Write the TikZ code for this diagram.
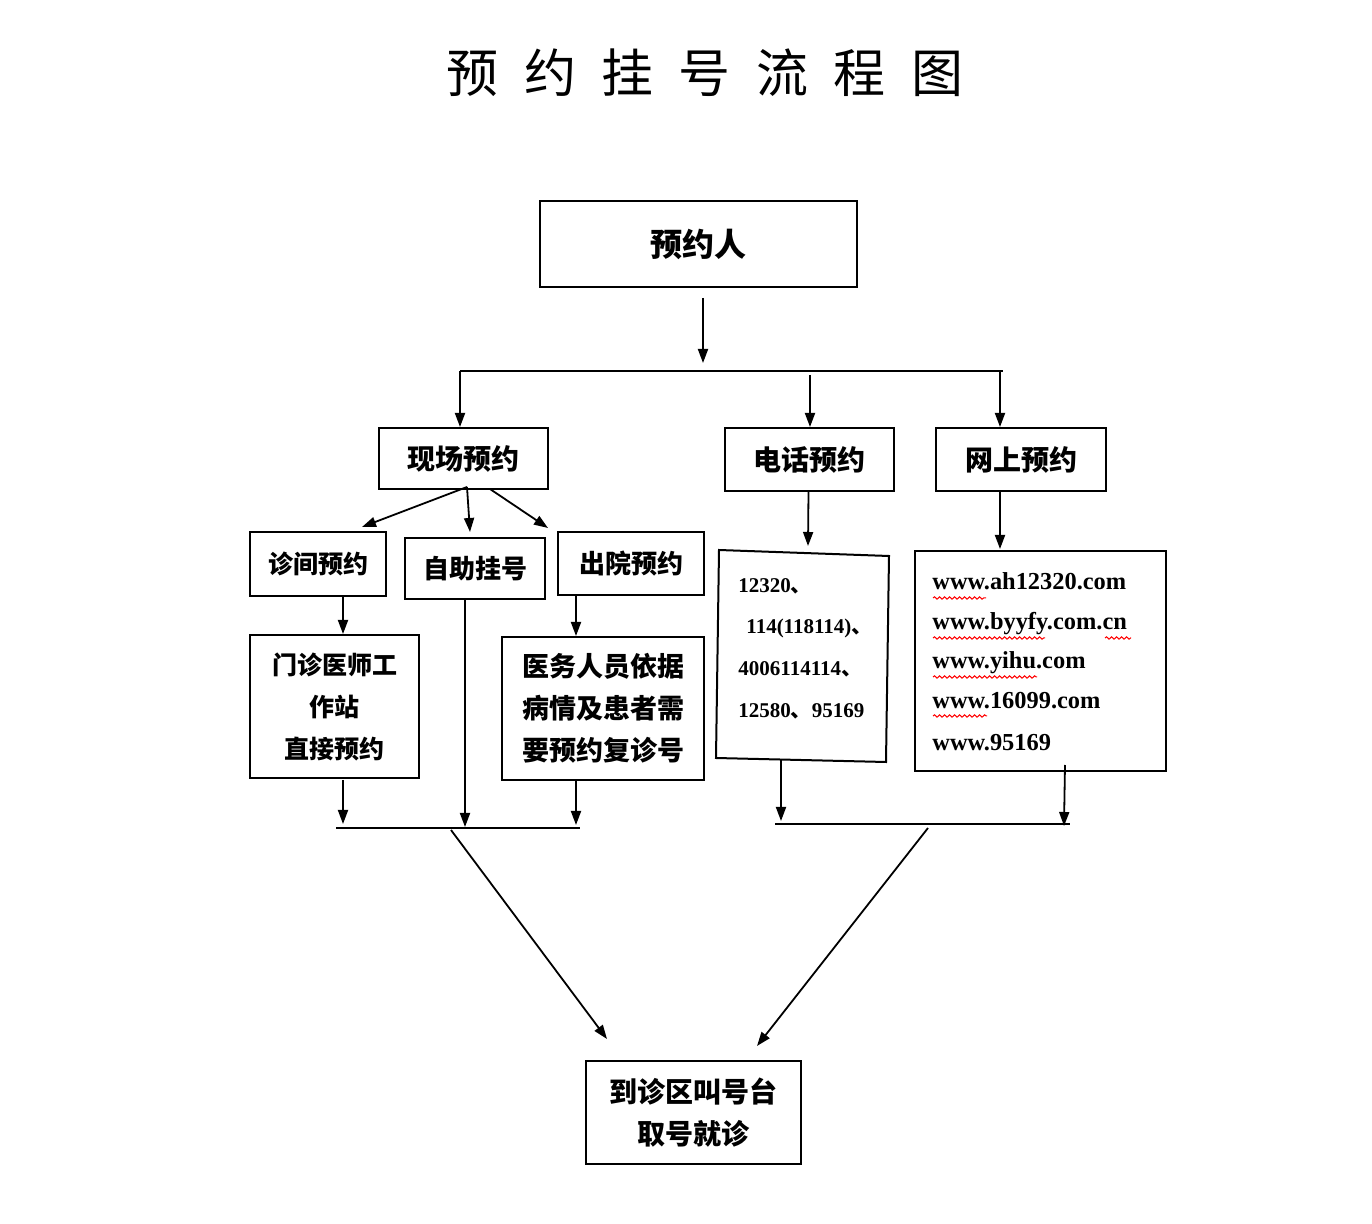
\documentclass[tikz,border=0pt]{standalone}
\usepackage{fontspec}
\setmainfont{Liberation Serif}
\newfontfamily\cjk{Noto Sans CJK SC}
\usetikzlibrary{arrows.meta,decorations.pathmorphing}
\tikzset{
  box/.style={draw, line width=1pt, inner sep=0pt, align=center, font=\cjk\bfseries\fontsize{14}{21}\selectfont},
  arr/.style={line width=0.9pt, -{Triangle[length=7pt,width=5pt]}},
  ln/.style={line width=1pt},
  url/.style={anchor=base west, inner sep=0pt, font=\bfseries\fontsize{12.2}{14}\selectfont},
  tel/.style={anchor=base west, inner sep=0pt, font=\bfseries\fontsize{10.5}{12}\selectfont},
  wavy/.style={draw=red, line width=0.5pt, decorate, decoration={snake, amplitude=0.6pt, segment length=2.5pt}}
}
\begin{document}
\begin{tikzpicture}[x=0.5pt, y=-0.5pt]
\useasboundingbox[fill=white] (0,0) rectangle (1372,1224);

% title
\node[font=\cjk\fontsize{26}{30}\selectfont, inner sep=0pt] (title) at (705,73)
  {预\hspace{12.7pt}约\hspace{12.7pt}挂\hspace{12.7pt}号\hspace{12.7pt}流\hspace{12.7pt}程\hspace{12.7pt}图};

% boxes
\node[box, minimum width=158.5pt, minimum height=43pt, font=\cjk\bfseries\fontsize{16}{20}\selectfont] (p) at (698.5,244) {预约人};
\node[box, minimum width=84.5pt, minimum height=30.5pt] (xc) at (463.5,458.5) {现场预约};
\node[box, minimum width=84.5pt, minimum height=31.5pt] (dh) at (809.5,459.5) {电话预约};
\node[box, minimum width=85pt, minimum height=31.5pt] (ws) at (1021,459.5) {网上预约};
\node[box, minimum width=68pt, minimum height=32pt, font=\cjk\bfseries\fontsize{12.5}{18}\selectfont] (zj) at (318,564) {诊间预约};
\node[box, minimum width=70pt, minimum height=30.5pt, font=\cjk\bfseries\fontsize{13}{18}\selectfont] (zz) at (475,568.5) {自助挂号};
\node[box, minimum width=73pt, minimum height=31.5pt, font=\cjk\bfseries\fontsize{13}{18}\selectfont] (cy) at (631,563.5) {出院预约};
\node[box, minimum width=84.5pt, minimum height=71.5pt, font=\cjk\bfseries\fontsize{12.5}{21}\selectfont] (mz) at (334.5,706.5) {门诊医师工\\作站\\直接预约};
\node[box, minimum width=101pt, minimum height=71.5pt, align=left, font=\cjk\bfseries\fontsize{13.5}{21}\selectfont] (yw) at (603,708.5) {医务人员依据\\病情及患者需\\要预约复诊号};
\node[box, minimum width=125.5pt, minimum height=110pt] (web) at (1040.5,661) {};
\node[box, minimum width=107.5pt, minimum height=51.5pt] (dz) at (693.5,1112.5) {到诊区叫号台\\取号就诊};

% phone box (slightly skewed)
\coordinate (t1) at (719,550);
\coordinate (t2) at (889,556);
\coordinate (t3) at (886,762);
\coordinate (t4) at (716,758);
\draw[ln] (t1) -- (t2) -- (t3) -- (t4) -- cycle;
\node[tel] (tel1) at (738,593) {12320{\cjk 、}};
\node[tel] (tel2) at (746,634) {114(118114){\cjk 、}};
\node[tel] (tel3) at (738,676) {4006114114{\cjk 、}};
\node[tel] (tel4) at (738,718) {12580{\cjk 、}95169};

% web urls
\node[url] (w1) at (932,590) {www.ah12320.com};
\node[url] (w2) at (932,630) {www.byyfy.com.cn};
\node[url] (w3) at (932,669) {www.yihu.com};
\node[url] (w4) at (932,709) {www.16099.com};
\node[url] (w5) at (932,751) {www.95169};
\draw[wavy] (933,598) -- (986,598);
\draw[wavy] (933,638) -- (1045,638);
\draw[wavy] (1105,638) -- (1131,638);
\draw[wavy] (933,677) -- (1037,677);
\draw[wavy] (933,716) -- (987,716);

% top connectors
\coordinate (b1L) at (460,371);
\coordinate (b1R) at (1003,371);
\coordinate (pa) at (703,298);
\coordinate (pb) at (703,363);
\draw[arr] (pa) -- (pb);
\draw[ln] (b1L) -- (b1R);
\draw[arr] (b1L) -- (460,427);
\draw[arr] (810,375) -- (810,427);
\draw[arr] (1000,371) -- (1000,427);

% from 现场预约
\coordinate (xs) at (467,487);
\draw[arr] (xs) -- (362,527);
\draw[arr] (xs) -- (470,532);
\draw[arr] (490,489) -- (548,528);

% down arrows
\draw[arr] (dh.south) ++(-1,0) -- (808,546);
\draw[arr] (ws.south) ++(-21,0) -- (1000,549);
\draw[arr] (343,596) -- (343,634);
\draw[arr] (576,595) -- (576,636);

% lower bus left
\coordinate (b2L) at (336,828);
\coordinate (b2R) at (580,828);
\draw[arr] (343,780) -- (343,824);
\draw[arr] (465,599) -- (465,827);
\draw[arr] (576,780) -- (576,825);
\draw[ln] (b2L) -- (b2R);

% lower bus right
\coordinate (b3L) at (775,824);
\coordinate (b3R) at (1070,824);
\draw[arr] (781,760) -- (781,821);
\draw[arr] (1065,765) -- (1064,826);
\draw[ln] (b3L) -- (b3R);

% diagonals to final
\draw[arr] (451,830) -- (607,1039);
\draw[arr] (928,828) -- (757,1046);
\end{tikzpicture}
\end{document}
